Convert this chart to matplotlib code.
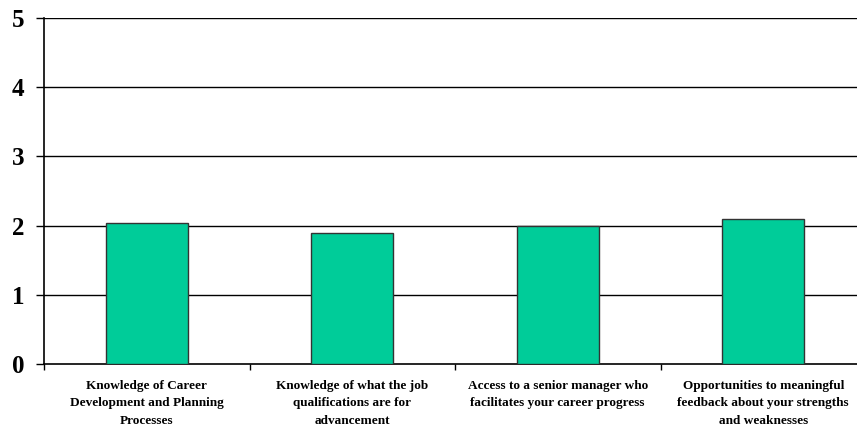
import numpy as np
import matplotlib.pyplot as plt

categories = [
    "Knowledge of Career\nDevelopment and Planning\nProcesses",
    "Knowledge of what the job\nqualifications are for\nadvancement",
    "Access to a senior manager who\nfacilitates your career progress",
    "Opportunities to meaningful\nfeedback about your strengths\nand weaknesses",
]
values = [2.04, 1.90, 2.00, 2.10]

plt.rcParams['font.family'] = ['Liberation Serif', 'DejaVu Serif']
plt.rcParams['font.weight'] = 'bold'

fig = plt.figure(figsize=(8.57, 4.33), dpi=100)
# right edge runs slightly past the picture, as in the original
ax = fig.add_axes([44 / 857, 1 - 364 / 433, 822 / 857, 346 / 433])

x = np.arange(len(values))
ax.bar(x, values, width=0.4, color='#00CC99', edgecolor='#333333', linewidth=1, zorder=3)

ax.set_ylim(0, 5)
ax.set_xlim(-0.5, len(values) - 0.5)
ax.set_yticks(range(6))
ax.tick_params(axis='y', labelsize=18, length=6, width=1, pad=8)
for yv in range(1, 6):
    ax.axhline(yv, color='black', linewidth=1, zorder=1)

ax.set_xticks(np.arange(len(values) + 1) - 0.5)
ax.set_xticklabels([])
ax.tick_params(axis='x', length=4, width=1)
for xi, lab in zip(x, categories):
    ax.text(xi, -0.23, lab, ha='center', va='top', fontsize=9.5, fontweight='bold',
            linespacing=1.6, clip_on=False)

for s in ['top', 'right']:
    ax.spines[s].set_visible(False)
ax.spines['left'].set_linewidth(1.2)
ax.spines['bottom'].set_linewidth(1.2)

fig.savefig('out.png', dpi=100)
